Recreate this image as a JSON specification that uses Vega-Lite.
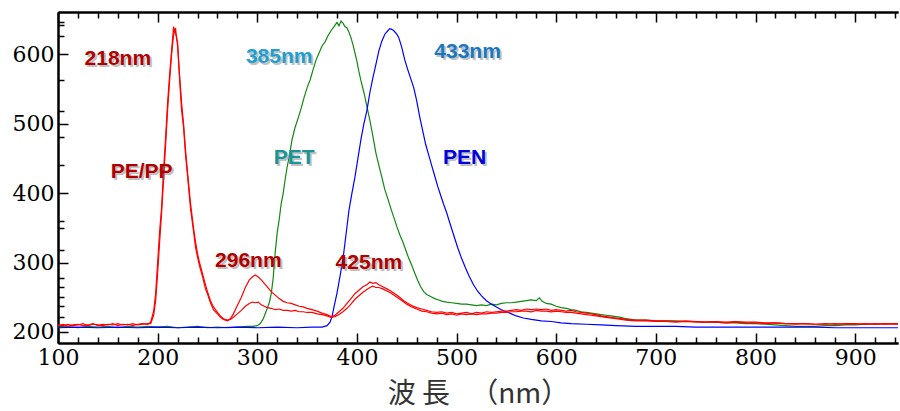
{
  "$schema": "https://vega.github.io/schema/vega-lite/v6.json",
  "width": 840,
  "height": 331,
  "autosize": {"type": "none"},
  "padding": {"left": 58, "top": 12, "right": 2, "bottom": 68},
  "background": "white",
  "config": {"view": {"stroke": null}, "axis": {"grid": false, "tickColor": "black", "tickWidth": 1.5, "domainColor": "black", "domainWidth": 2}},
  "resolve": {"axis": {"x": "independent", "y": "independent"}},
  "layer": [
    {
      "data": {"values": [
        {"w":100,"v":207},{"w":110,"v":208},{"w":120,"v":206},{"w":130,"v":208},{"w":140,"v":207},{"w":150,"v":208},{"w":160,"v":206},{"w":170,"v":208},{"w":180,"v":207},{"w":190,"v":208},{"w":200,"v":207},{"w":210,"v":208},{"w":220,"v":206},{"w":230,"v":207},{"w":240,"v":208},{"w":250,"v":206},{"w":260,"v":207},{"w":270,"v":206},{"w":280,"v":207},{"w":290,"v":208},{"w":295,"v":208},{"w":300,"v":209},{"w":303,"v":212},{"w":306,"v":219},{"w":309,"v":230},{"w":312,"v":242},{"w":314,"v":255},{"w":316,"v":278},{"w":318,"v":315},{"w":320,"v":343},{"w":322,"v":362},{"w":324,"v":385},{"w":326,"v":400},{"w":328,"v":420},{"w":330,"v":438},{"w":332,"v":452},{"w":335,"v":478},{"w":338,"v":495},{"w":341,"v":508},{"w":344,"v":522},{"w":347,"v":538},{"w":350,"v":552},{"w":353,"v":563},{"w":356,"v":578},{"w":359,"v":592},{"w":362,"v":602},{"w":365,"v":612},{"w":368,"v":618},{"w":371,"v":627},{"w":374,"v":634},{"w":377,"v":640},{"w":380,"v":646},{"w":382,"v":641},{"w":384,"v":648},{"w":386,"v":645},{"w":388,"v":640},{"w":390,"v":638},{"w":392,"v":632},{"w":394,"v":624},{"w":396,"v":614},{"w":398,"v":602},{"w":400,"v":590},{"w":402,"v":575},{"w":404,"v":562},{"w":407,"v":545},{"w":410,"v":525},{"w":413,"v":505},{"w":416,"v":482},{"w":419,"v":458},{"w":422,"v":440},{"w":425,"v":423},{"w":428,"v":405},{"w":431,"v":392},{"w":434,"v":378},{"w":437,"v":365},{"w":440,"v":352},{"w":443,"v":340},{"w":446,"v":330},{"w":449,"v":318},{"w":452,"v":306},{"w":455,"v":296},{"w":458,"v":285},{"w":461,"v":274},{"w":464,"v":265},{"w":467,"v":258},{"w":470,"v":254},{"w":474,"v":251},{"w":478,"v":248},{"w":482,"v":246},{"w":486,"v":244},{"w":490,"v":243},{"w":495,"v":242},{"w":500,"v":241},{"w":505,"v":240},{"w":510,"v":240},{"w":515,"v":239},{"w":520,"v":238},{"w":525,"v":239},{"w":530,"v":238},{"w":535,"v":240},{"w":540,"v":239},{"w":545,"v":241},{"w":550,"v":242},{"w":555,"v":242},{"w":560,"v":243},{"w":565,"v":244},{"w":570,"v":245},{"w":575,"v":246},{"w":580,"v":245},{"w":583,"v":249},{"w":586,"v":244},{"w":590,"v":241},{"w":595,"v":240},{"w":600,"v":237},{"w":605,"v":235},{"w":610,"v":234},{"w":615,"v":232},{"w":620,"v":231},{"w":625,"v":229},{"w":630,"v":228},{"w":635,"v":227},{"w":640,"v":226},{"w":645,"v":225},{"w":650,"v":224},{"w":655,"v":223},{"w":660,"v":222},{"w":665,"v":221},{"w":670,"v":219},{"w":675,"v":218},{"w":680,"v":217},{"w":690,"v":217},{"w":700,"v":216},{"w":710,"v":216},{"w":720,"v":216},{"w":730,"v":215},{"w":740,"v":215},{"w":750,"v":214},{"w":760,"v":214},{"w":770,"v":213},{"w":780,"v":213},{"w":790,"v":212},{"w":800,"v":212},{"w":810,"v":211},{"w":820,"v":210},{"w":830,"v":209},{"w":840,"v":208},{"w":850,"v":208},{"w":860,"v":208},{"w":870,"v":209},{"w":880,"v":209},{"w":890,"v":210},{"w":900,"v":210},{"w":910,"v":211},{"w":920,"v":211},{"w":930,"v":212},{"w":943,"v":212}
      ]},
      "mark": {"type": "line", "color": "#118811", "strokeWidth": 1.2, "clip": true},
      "encoding": {
        "x": {"field": "w", "type": "quantitative",
          "scale": {"domain": [100, 943], "nice": false, "zero": false},
          "axis": {"orient": "bottom", "values": [100,200,300,400,500,600,700,800,900],
            "tickSize": -10, "labelFont": "DejaVu Serif", "labelFontSize": 22, "labelColor": "black", "labelPadding": 14,
            "labelFlush": false, "labelOverlap": false,
            "title": "波 長 　（nm）", "titleFont": "Noto Sans CJK JP", "titleFontSize": 28,
            "titleFontWeight": "normal", "titleColor": "#333333", "titlePadding": 12}},
        "y": {"field": "v", "type": "quantitative",
          "scale": {"domain": [184, 661], "nice": false, "zero": false},
          "axis": {"orient": "left", "values": [200,300,400,500,600],
            "tickSize": -10, "labelFont": "DejaVu Serif", "labelFontSize": 22, "labelColor": "black", "labelPadding": 14,
            "labelFlush": false, "labelOverlap": false, "title": null}}
      }
    },
    {
      "data": {"values": [
        {"w":100,"v":206},{"w":120,"v":207},{"w":140,"v":206},{"w":160,"v":207},{"w":180,"v":206},{"w":200,"v":207},{"w":220,"v":206},{"w":240,"v":207},{"w":260,"v":206},{"w":280,"v":207},{"w":300,"v":206},{"w":320,"v":207},{"w":340,"v":206},{"w":355,"v":207},{"w":365,"v":207},{"w":370,"v":209},{"w":373,"v":214},{"w":375,"v":222},{"w":377,"v":236},{"w":380,"v":256},{"w":383,"v":280},{"w":386,"v":305},{"w":389,"v":340},{"w":392,"v":375},{"w":395,"v":400},{"w":398,"v":423},{"w":401,"v":450},{"w":404,"v":477},{"w":407,"v":500},{"w":410,"v":519},{"w":413,"v":545},{"w":416,"v":566},{"w":419,"v":585},{"w":422,"v":605},{"w":425,"v":619},{"w":428,"v":629},{"w":431,"v":634},{"w":433,"v":637},{"w":435,"v":636},{"w":437,"v":634},{"w":440,"v":629},{"w":442,"v":624},{"w":445,"v":610},{"w":448,"v":592},{"w":451,"v":578},{"w":454,"v":565},{"w":457,"v":552},{"w":460,"v":533},{"w":463,"v":510},{"w":466,"v":490},{"w":469,"v":470},{"w":472,"v":455},{"w":475,"v":440},{"w":478,"v":425},{"w":481,"v":410},{"w":484,"v":397},{"w":487,"v":384},{"w":490,"v":372},{"w":493,"v":358},{"w":497,"v":340},{"w":501,"v":322},{"w":505,"v":306},{"w":509,"v":292},{"w":513,"v":279},{"w":517,"v":268},{"w":521,"v":259},{"w":525,"v":252},{"w":530,"v":245},{"w":535,"v":240},{"w":540,"v":236},{"w":545,"v":232},{"w":550,"v":229},{"w":555,"v":226},{"w":560,"v":223},{"w":567,"v":220},{"w":575,"v":218},{"w":585,"v":216},{"w":595,"v":215},{"w":605,"v":213},{"w":615,"v":212},{"w":630,"v":211},{"w":645,"v":210},{"w":660,"v":209},{"w":680,"v":208},{"w":700,"v":208},{"w":720,"v":208},{"w":740,"v":207},{"w":760,"v":207},{"w":780,"v":207},{"w":800,"v":207},{"w":820,"v":207},{"w":840,"v":207},{"w":860,"v":207},{"w":880,"v":206},{"w":900,"v":206},{"w":920,"v":206},{"w":943,"v":206}
      ]},
      "mark": {"type": "line", "color": "#0000ff", "strokeWidth": 1.2, "clip": true},
      "encoding": {
        "x": {"field": "w", "type": "quantitative", "scale": {"domain": [100, 943], "nice": false, "zero": false},
          "axis": {"orient": "bottom", "values": [120,140,160,180,220,240,260,280,320,340,360,380,420,440,460,480,520,540,560,580,620,640,660,680,720,740,760,780,820,840,860,880,920,940],
            "tickSize": -6, "labels": false, "title": null}},
        "y": {"field": "v", "type": "quantitative", "scale": {"domain": [184, 661], "nice": false, "zero": false},
          "axis": {"orient": "left", "values": [208,222,237,250,265,278,318,350,360,440,481,519,563,627,642,647],
            "tickSize": -6, "labels": false, "title": null}}
      }
    },
    {
      "data": {"values": [
        {"w":100,"v":209},{"w":105,"v":211},{"w":110,"v":208},{"w":115,"v":210},{"w":120,"v":211},{"w":125,"v":209},{"w":130,"v":210},{"w":135,"v":212},{"w":140,"v":209},{"w":145,"v":211},{"w":150,"v":210},{"w":155,"v":212},{"w":160,"v":209},{"w":165,"v":211},{"w":170,"v":210},{"w":175,"v":212},{"w":180,"v":210},{"w":185,"v":211},{"w":190,"v":212},{"w":193,"v":212},{"w":196,"v":224},{"w":198,"v":245},{"w":200,"v":285},{"w":202,"v":330},{"w":204,"v":372},{"w":206,"v":420},{"w":208,"v":470},{"w":210,"v":520},{"w":212,"v":562},{"w":214,"v":600},{"w":216,"v":628},{"w":217,"v":636},{"w":218,"v":630},{"w":219,"v":625},{"w":220,"v":612},{"w":222,"v":570},{"w":224,"v":530},{"w":226,"v":500},{"w":228,"v":462},{"w":230,"v":430},{"w":233,"v":385},{"w":236,"v":350},{"w":238,"v":330},{"w":240,"v":313},{"w":242,"v":300},{"w":245,"v":284},{"w":248,"v":268},{"w":250,"v":258},{"w":253,"v":245},{"w":256,"v":236},{"w":260,"v":228},{"w":263,"v":223},{"w":266,"v":219},{"w":270,"v":217},{"w":273,"v":218},{"w":276,"v":221},{"w":280,"v":226},{"w":284,"v":231},{"w":288,"v":237},{"w":292,"v":241},{"w":295,"v":243},{"w":298,"v":242},{"w":301,"v":243},{"w":304,"v":239},{"w":307,"v":237},{"w":310,"v":235},{"w":314,"v":234},{"w":318,"v":232},{"w":322,"v":233},{"w":326,"v":231},{"w":330,"v":231},{"w":334,"v":230},{"w":338,"v":231},{"w":342,"v":229},{"w":346,"v":229},{"w":350,"v":228},{"w":355,"v":228},{"w":360,"v":226},{"w":365,"v":225},{"w":370,"v":223},{"w":374,"v":221},{"w":378,"v":222},{"w":382,"v":225},{"w":386,"v":229},{"w":390,"v":234},{"w":394,"v":240},{"w":398,"v":247},{"w":402,"v":252},{"w":406,"v":257},{"w":410,"v":261},{"w":413,"v":264},{"w":416,"v":266},{"w":419,"v":264},{"w":422,"v":264},{"w":426,"v":262},{"w":430,"v":259},{"w":434,"v":256},{"w":438,"v":252},{"w":442,"v":248},{"w":446,"v":244},{"w":450,"v":240},{"w":455,"v":236},{"w":460,"v":233},{"w":465,"v":230},{"w":470,"v":229},{"w":475,"v":227},{"w":480,"v":226},{"w":485,"v":227},{"w":490,"v":225},{"w":495,"v":226},{"w":500,"v":224},{"w":505,"v":226},{"w":510,"v":225},{"w":515,"v":226},{"w":520,"v":225},{"w":525,"v":226},{"w":530,"v":226},{"w":535,"v":227},{"w":540,"v":227},{"w":545,"v":228},{"w":550,"v":228},{"w":555,"v":229},{"w":560,"v":229},{"w":565,"v":230},{"w":570,"v":230},{"w":575,"v":229},{"w":580,"v":231},{"w":585,"v":230},{"w":590,"v":230},{"w":595,"v":229},{"w":600,"v":230},{"w":605,"v":229},{"w":610,"v":228},{"w":615,"v":228},{"w":620,"v":227},{"w":625,"v":226},{"w":630,"v":225},{"w":635,"v":224},{"w":640,"v":223},{"w":645,"v":222},{"w":650,"v":221},{"w":660,"v":219},{"w":670,"v":217},{"w":680,"v":216},{"w":690,"v":216},{"w":700,"v":215},{"w":710,"v":215},{"w":720,"v":214},{"w":730,"v":215},{"w":740,"v":214},{"w":750,"v":214},{"w":760,"v":214},{"w":770,"v":213},{"w":780,"v":214},{"w":790,"v":213},{"w":800,"v":213},{"w":810,"v":212},{"w":820,"v":213},{"w":830,"v":212},{"w":840,"v":211},{"w":850,"v":212},{"w":860,"v":211},{"w":870,"v":211},{"w":880,"v":212},{"w":890,"v":211},{"w":900,"v":211},{"w":910,"v":212},{"w":920,"v":211},{"w":930,"v":212},{"w":940,"v":211},{"w":943,"v":211}
      ]},
      "mark": {"type": "line", "color": "#ff0000", "strokeWidth": 1.2, "clip": true},
      "encoding": {
        "x": {"field": "w", "type": "quantitative", "scale": {"domain": [100, 943], "nice": false, "zero": false},
          "axis": {"orient": "top", "values": [100,200,300,400,500,600,700,800,900], "tickSize": -10, "labels": false, "title": null}},
        "y": {"field": "v", "type": "quantitative", "scale": {"domain": [184, 661], "nice": false, "zero": false}, "axis": null}
      }
    },
    {
      "data": {"values": [
        {"w":100,"v":210},{"w":105,"v":209},{"w":110,"v":211},{"w":115,"v":209},{"w":120,"v":210},{"w":125,"v":212},{"w":130,"v":209},{"w":135,"v":211},{"w":140,"v":210},{"w":145,"v":209},{"w":150,"v":211},{"w":155,"v":210},{"w":160,"v":212},{"w":165,"v":210},{"w":170,"v":211},{"w":175,"v":209},{"w":180,"v":211},{"w":185,"v":212},{"w":190,"v":211},{"w":193,"v":214},{"w":196,"v":230},{"w":198,"v":255},{"w":200,"v":300},{"w":202,"v":345},{"w":204,"v":380},{"w":206,"v":435},{"w":208,"v":480},{"w":210,"v":530},{"w":212,"v":570},{"w":214,"v":605},{"w":216,"v":640},{"w":217,"v":632},{"w":218,"v":638},{"w":219,"v":622},{"w":220,"v":618},{"w":222,"v":565},{"w":224,"v":520},{"w":226,"v":495},{"w":228,"v":455},{"w":230,"v":425},{"w":233,"v":378},{"w":236,"v":345},{"w":238,"v":322},{"w":240,"v":308},{"w":242,"v":295},{"w":245,"v":280},{"w":248,"v":262},{"w":250,"v":255},{"w":253,"v":242},{"w":256,"v":232},{"w":260,"v":226},{"w":263,"v":221},{"w":266,"v":218},{"w":270,"v":216},{"w":273,"v":219},{"w":276,"v":226},{"w":280,"v":238},{"w":284,"v":250},{"w":288,"v":264},{"w":292,"v":275},{"w":295,"v":279},{"w":298,"v":282},{"w":301,"v":279},{"w":304,"v":275},{"w":307,"v":270},{"w":310,"v":265},{"w":314,"v":258},{"w":318,"v":253},{"w":322,"v":248},{"w":326,"v":244},{"w":330,"v":242},{"w":334,"v":241},{"w":338,"v":239},{"w":342,"v":237},{"w":346,"v":236},{"w":350,"v":234},{"w":355,"v":232},{"w":360,"v":230},{"w":365,"v":227},{"w":370,"v":225},{"w":374,"v":222},{"w":378,"v":224},{"w":382,"v":229},{"w":386,"v":234},{"w":390,"v":241},{"w":394,"v":248},{"w":398,"v":255},{"w":402,"v":260},{"w":406,"v":265},{"w":410,"v":268},{"w":413,"v":272},{"w":416,"v":270},{"w":419,"v":271},{"w":422,"v":268},{"w":426,"v":265},{"w":430,"v":262},{"w":434,"v":259},{"w":438,"v":255},{"w":442,"v":251},{"w":446,"v":246},{"w":450,"v":242},{"w":455,"v":238},{"w":460,"v":235},{"w":465,"v":233},{"w":470,"v":231},{"w":475,"v":229},{"w":480,"v":228},{"w":485,"v":229},{"w":490,"v":227},{"w":495,"v":228},{"w":500,"v":226},{"w":505,"v":227},{"w":510,"v":228},{"w":515,"v":226},{"w":520,"v":228},{"w":525,"v":227},{"w":530,"v":229},{"w":535,"v":228},{"w":540,"v":229},{"w":545,"v":230},{"w":550,"v":230},{"w":555,"v":231},{"w":560,"v":232},{"w":565,"v":231},{"w":570,"v":233},{"w":575,"v":232},{"w":580,"v":233},{"w":585,"v":232},{"w":590,"v":233},{"w":595,"v":231},{"w":600,"v":232},{"w":605,"v":231},{"w":610,"v":230},{"w":615,"v":231},{"w":620,"v":229},{"w":625,"v":228},{"w":630,"v":227},{"w":635,"v":226},{"w":640,"v":225},{"w":645,"v":223},{"w":650,"v":222},{"w":655,"v":221},{"w":660,"v":220},{"w":665,"v":219},{"w":670,"v":218},{"w":680,"v":217},{"w":690,"v":217},{"w":700,"v":216},{"w":710,"v":216},{"w":720,"v":215},{"w":730,"v":216},{"w":740,"v":215},{"w":750,"v":214},{"w":760,"v":215},{"w":770,"v":214},{"w":780,"v":215},{"w":790,"v":214},{"w":800,"v":214},{"w":810,"v":213},{"w":820,"v":213},{"w":830,"v":212},{"w":840,"v":212},{"w":850,"v":212},{"w":860,"v":211},{"w":870,"v":212},{"w":880,"v":211},{"w":890,"v":212},{"w":900,"v":212},{"w":910,"v":211},{"w":920,"v":212},{"w":930,"v":211},{"w":940,"v":212},{"w":943,"v":212}
      ]},
      "mark": {"type": "line", "color": "#ff0000", "strokeWidth": 1.2, "clip": true},
      "encoding": {
        "x": {"field": "w", "type": "quantitative", "scale": {"domain": [100, 943], "nice": false, "zero": false},
          "axis": {"orient": "top", "values": [120,140,160,180,220,240,260,280,320,340,360,380,420,440,460,480,520,540,560,580,620,640,660,680,720,740,760,780,820,840,860,880,920,940], "tickSize": -6, "labels": false, "title": null}},
        "y": {"field": "v", "type": "quantitative", "scale": {"domain": [184, 661], "nice": false, "zero": false}, "axis": null}
      }
    },
    {
      "data": {"name": "labels", "values": [
        {"w":160,"v":593,"t":"218nm"},{"w":184,"v":430,"t":"PE/PP"},{"w":322,"v":596,"t":"385nm"},{"w":511,"v":604,"t":"433nm"},{"w":337,"v":451,"t":"PET"},{"w":508,"v":451,"t":"PEN"},{"w":291,"v":302,"t":"296nm"},{"w":412,"v":300,"t":"425nm"}
      ]},
      "mark": {"type": "text", "font": "Liberation Sans", "fontWeight": "bold", "fontSize": 21, "dx": 2, "dy": 2, "color": "#777777", "opacity": 0.45},
      "encoding": {
        "x": {"field": "w", "type": "quantitative", "scale": {"domain": [100, 943], "nice": false, "zero": false}, "axis": null},
        "y": {"field": "v", "type": "quantitative", "scale": {"domain": [184, 661], "nice": false, "zero": false}, "axis": null},
        "text": {"field": "t"}
      }
    },
    {
      "data": {"name": "labels"},
      "mark": {"type": "text", "font": "Liberation Sans", "fontWeight": "bold", "fontSize": 21},
      "encoding": {
        "x": {"field": "w", "type": "quantitative", "scale": {"domain": [100, 943], "nice": false, "zero": false}, "axis": null},
        "y": {"field": "v", "type": "quantitative", "scale": {"domain": [184, 661], "nice": false, "zero": false}, "axis": null},
        "text": {"field": "t"},
        "color": {"field": "t", "type": "nominal", "legend": null,
          "scale": {"domain": ["218nm","PE/PP","296nm","425nm","385nm","PET","433nm","PEN"],
                    "range": ["#b00000","#b00000","#b00000","#b00000","#1e9fd2","#1a9494","#1a78c0","#0000e0"]}}
      }
    }
  ]
}
